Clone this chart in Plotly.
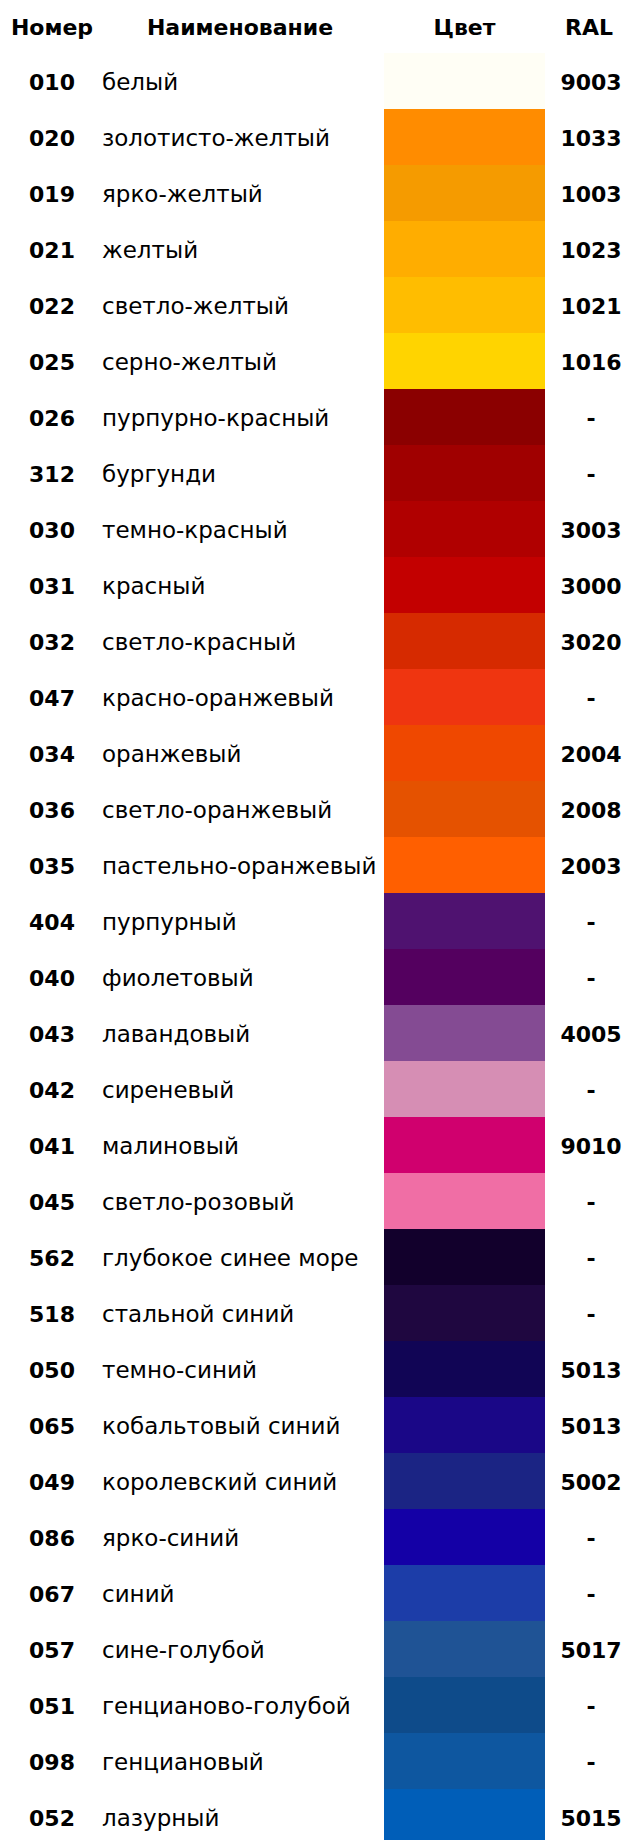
import plotly.graph_objects as go

# ---- data ----
numbers = ["010", "020", "019", "021", "022", "025", "026", "312", "030", "031",
           "032", "047", "034", "036", "035", "404", "040", "043", "042", "041",
           "045", "562", "518", "050", "065", "049", "086", "067", "057", "051",
           "098", "052"]
names = ["белый", "золотисто-желтый", "ярко-желтый", "желтый", "светло-желтый",
         "серно-желтый", "пурпурно-красный", "бургунди", "темно-красный", "красный",
         "светло-красный", "красно-оранжевый", "оранжевый", "светло-оранжевый",
         "пастельно-оранжевый", "пурпурный", "фиолетовый", "лавандовый", "сиреневый",
         "малиновый", "светло-розовый", "глубокое синее море", "стальной синий",
         "темно-синий", "кобальтовый синий", "королевский синий", "ярко-синий",
         "синий", "сине-голубой", "генцианово-голубой", "генциановый", "лазурный"]
colors = ["#FFFEF5", "#FF8C00", "#F59B00", "#FFAD00", "#FFBD00", "#FFD400",
          "#8B0000", "#A00000", "#B00000", "#C30000", "#D62A00", "#EF3510",
          "#EF4800", "#E55200", "#FF5F00", "#4F1270", "#54005F", "#844B93",
          "#D68EB4", "#D0006E", "#F06EA5", "#12002C", "#1F0740", "#110555",
          "#1A0787", "#1B2484", "#1400A6", "#1C3DA8", "#1F5395", "#0E4B8A",
          "#0E57A0", "#005EB8"]
ral = ["9003", "1033", "1003", "1023", "1021", "1016", "-", "-", "3003", "3000",
       "3020", "-", "2004", "2008", "2003", "-", "-", "4005", "-", "9010",
       "-", "-", "-", "5013", "5013", "5002", "-", "-", "5017", "-", "-", "5015"]
headers = ["Номер", "Наименование", "Цвет", "RAL"]

# ---- layout constants (pixel-like x units) ----
W, H = 625, 1840
ROW = 56.0
TOP0 = 53.0
X_NUM = 52
X_NAME = 102
X_BAR0, X_BAR1 = 384, 545
X_RAL = 591
HEADER_X = [52, 240, (X_BAR0 + X_BAR1) / 2, 589]
HEADER_Y_PX = 26
TEXT_DY = 3.0 / ROW  # small downward nudge of text baselines

# row i center in px = TOP0 + ROW*(i+0.5); axis maps px -> row units
def px_to_row(px):
    return (px - TOP0) / ROW - 0.5

rows = list(range(len(numbers)))
text_rows = [r + TEXT_DY for r in rows]

FONT_R = "DejaVu Sans"
FONT_B = "DejaVu Sans"
SIZE_R = 23
SIZE_B = 22

fig = go.Figure()
fig.add_trace(go.Bar(
    y=rows, x=[X_BAR1 - X_BAR0] * len(rows), base=X_BAR0, orientation="h",
    width=1.0, marker=dict(color=colors, line=dict(width=0)),
    hoverinfo="skip", showlegend=False,
))
fig.add_trace(go.Scatter(
    x=[X_NUM] * len(rows), y=text_rows, mode="text", text=numbers,
    textposition="middle center",
    textfont=dict(family=FONT_B, size=SIZE_B, color="#000000", weight="bold"),
    hoverinfo="skip", showlegend=False,
))
fig.add_trace(go.Scatter(
    x=[X_NAME] * len(rows), y=text_rows, mode="text", text=names,
    textposition="middle right",
    textfont=dict(family=FONT_R, size=SIZE_R, color="#000000"),
    hoverinfo="skip", showlegend=False,
))
fig.add_trace(go.Scatter(
    x=[X_RAL] * len(rows), y=text_rows, mode="text", text=ral,
    textposition="middle center",
    textfont=dict(family=FONT_B, size=SIZE_B, color="#000000", weight="bold"),
    hoverinfo="skip", showlegend=False,
))
fig.add_trace(go.Scatter(
    x=HEADER_X, y=[px_to_row(HEADER_Y_PX) + TEXT_DY] * len(headers), mode="text",
    text=headers, textposition="middle center",
    textfont=dict(family=FONT_B, size=SIZE_B, color="#000000", weight="bold"),
    hoverinfo="skip", showlegend=False,
))

fig.update_layout(
    width=W, height=H,
    margin=dict(l=0, r=0, t=0, b=0),
    paper_bgcolor="white", plot_bgcolor="white",
    bargap=0,
    xaxis=dict(range=[0, W], visible=False, fixedrange=True),
    yaxis=dict(range=[px_to_row(H), px_to_row(0)], visible=False, fixedrange=True),
)
fig.write_html(
    "out.html",
    config={"displayModeBar": False},
    post_script="document.body.style.margin='0';document.body.style.overflow='hidden';",
)
